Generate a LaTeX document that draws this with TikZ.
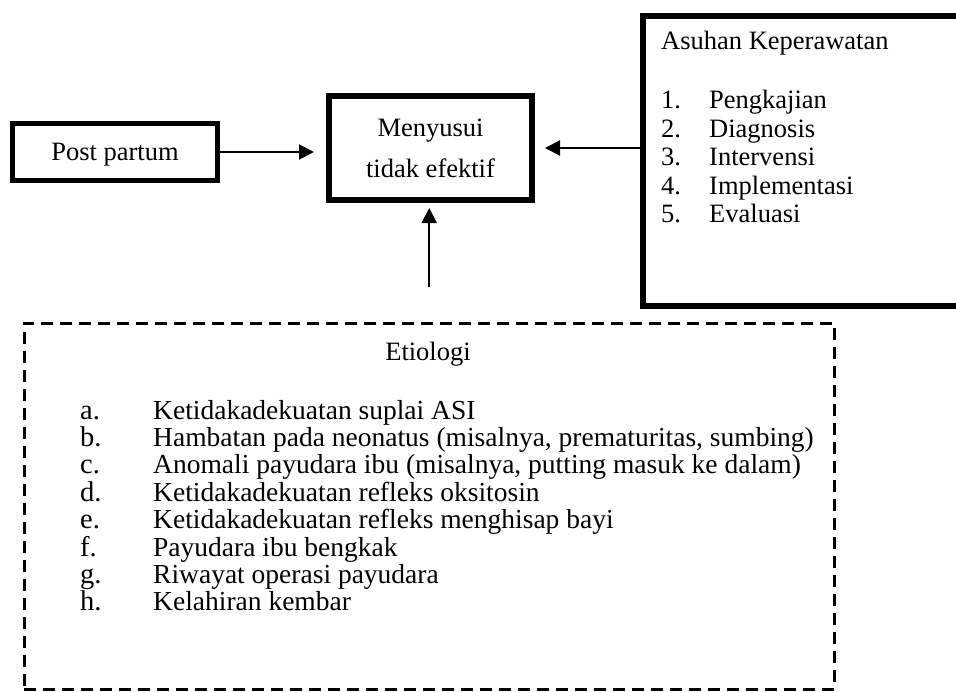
\documentclass[tikz,border=0pt]{standalone}
\usepackage{fontspec}
\setmainfont{Liberation Serif}
\usetikzlibrary{arrows.meta, positioning}

\tikzset{
  thickbox/.style={draw, rectangle, line width=6pt, inner sep=0pt},
  dashbox/.style={draw, rectangle, line width=2.5pt, dash pattern=on 12pt off 7pt},
  arr/.style={line width=2pt, -{Triangle[length=15pt,width=15pt]}},
  txt/.style={font=\fontsize{26.5}{29}\selectfont, inner sep=0pt},
  etxt/.style={font=\fontsize{27.5}{30}\selectfont, inner sep=0pt},
  lbl/.style={font=\fontsize{28.5}{30}\selectfont, inner sep=0pt},
}

\begin{document}
\begin{tikzpicture}[x=1pt,y=-1pt]  % pixel-like units, y downwards
    \useasboundingbox (0,0) rectangle (956,691);  % page size

    % Boxes
    \node[thickbox, line width=5pt, minimum width=205pt, minimum height=57pt, txt, text depth=0pt] (post) at (115,152) {Post partum};  % left box
    \node[thickbox, minimum width=203pt, minimum height=104pt, txt, align=center] (menyusui) at (430.5,148) {Menyusui\\[12pt]tidak efektif};  % middle box
    \node[thickbox, minimum width=340pt, minimum height=290pt, anchor=north west] (asuhan) at (640,13) {};  % right box, runs off the page
    \node[dashbox, minimum width=810pt, minimum height=366pt, anchor=north west] (etiologi) at (23,322) {};  % dashed box below

    % Asuhan Keperawatan text
    \node[txt, anchor=base west] (akTitle) at (661,49) {Asuhan Keperawatan};  % title
    \node[txt, anchor=base west] (akNo1) at (661,108) {1.};  % numbers
    \node[txt, anchor=base west] (akNo2) at (661,137) {2.};
    \node[txt, anchor=base west] (akNo3) at (661,165) {3.};
    \node[txt, anchor=base west] (akNo4) at (661,194) {4.};
    \node[txt, anchor=base west] (akNo5) at (661,222) {5.};
    \node[txt, anchor=base west] (ak1) at (709,108) {Pengkajian};  % items
    \node[txt, anchor=base west] (ak2) at (709,137) {Diagnosis};
    \node[txt, anchor=base west] (ak3) at (709,165) {Intervensi};
    \node[txt, anchor=base west] (ak4) at (709,194) {Implementasi};
    \node[txt, anchor=base west] (ak5) at (709,222) {Evaluasi};

    % Etiologi text
    \node[txt, anchor=base] (etTitle) at (428,360) {Etiologi};  % title
    \node[lbl, anchor=base west] (etA) at (80,419) {a.};  % letters
    \node[lbl, anchor=base west] (etB) at (80,446.4) {b.};
    \node[lbl, anchor=base west] (etC) at (80,473.8) {c.};
    \node[lbl, anchor=base west] (etD) at (80,501.2) {d.};
    \node[lbl, anchor=base west] (etE) at (80,528.6) {e.};
    \node[lbl, anchor=base west] (etF) at (80,556) {f.};
    \node[lbl, anchor=base west] (etG) at (80,583.4) {g.};
    \node[lbl, anchor=base west] (etH) at (80,610.8) {h.};
    \node[etxt, anchor=base west] (et1) at (153,419) {Ketidakadekuatan suplai ASI};  % causes
    \node[etxt, anchor=base west] (et2) at (153,446.4) {Hambatan pada neonatus (misalnya, prematuritas, sumbing)};
    \node[etxt, anchor=base west] (et3) at (153,473.8) {Anomali payudara ibu (misalnya, putting masuk ke dalam)};
    \node[etxt, anchor=base west] (et4) at (153,501.2) {Ketidakadekuatan refleks oksitosin};
    \node[etxt, anchor=base west] (et5) at (153,528.6) {Ketidakadekuatan refleks menghisap bayi};
    \node[etxt, anchor=base west] (et6) at (153,556) {Payudara ibu bengkak};
    \node[etxt, anchor=base west] (et7) at (153,583.4) {Riwayat operasi payudara};
    \node[etxt, anchor=base west] (et8) at (153,610.8) {Kelahiran kembar};

    % Connections
    \draw[arr, shorten >=12pt] (post.east) -- (post.east -| menyusui.west);  % post partum to menyusui
    \draw[arr, shorten >=10pt] (menyusui.east -| asuhan.west) -- (menyusui.east);  % asuhan to menyusui
    \draw[arr, shorten <=35pt, shorten >=5pt] (etiologi.north) -- (etiologi.north |- menyusui.south);  % etiologi to menyusui
\end{tikzpicture}
\end{document}
